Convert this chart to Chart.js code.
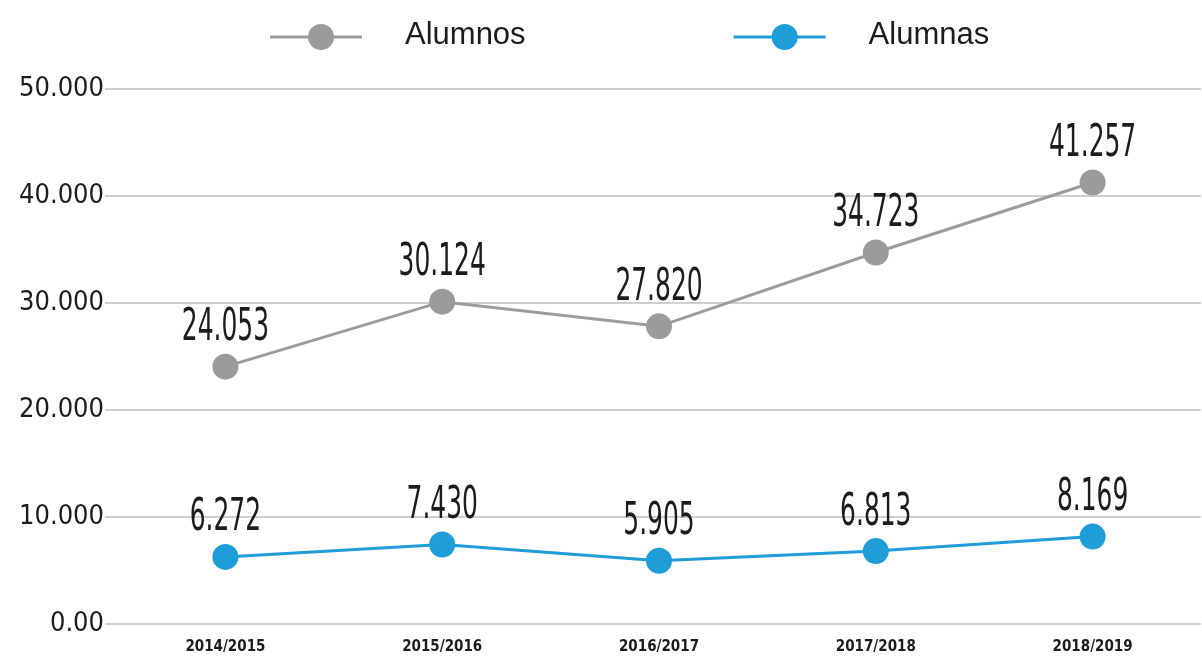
<!DOCTYPE html>
<html>
<head>
<meta charset="utf-8">
<script src="https://cdn.jsdelivr.net/npm/chart.js@4.4.0/dist/chart.umd.min.js"></script>
<style>
    html, body { margin: 0; padding: 0; background: #fff; overflow: hidden; }
    #wrap { width: 1214px; height: 661px; }
</style>
</head>
<body>
<div id="wrap"><canvas id="lineChart"></canvas></div>
<script>
// data
const cursos = ['2014/2015', '2015/2016', '2016/2017', '2017/2018', '2018/2019'];
const alumnos = [24053, 30124, 27820, 34723, 41257];
const alumnas = [6272, 7430, 5905, 6813, 8169];
const yLabels = ['0.00', '10.000', '20.000', '30.000', '40.000', '50.000'];

const narrow = "'Liberation Sans Narrow', 'DejaVu Sans Condensed', sans-serif";

function formatNum(v) {
    return String(v).replace(/\B(?=(\d{3})+(?!\d))/g, '.');
}

// numbers above each point (squeezed, the original uses a tall narrow hand font)
const valueLabels = {
    id: 'valueLabels',
    afterDatasetsDraw(chart) {
        const ctx = chart.ctx;
        ctx.save();
        ctx.fillStyle = '#1c1c1c';
        ctx.font = '44px ' + narrow;
        ctx.textAlign = 'center';
        ctx.textBaseline = 'middle';
        chart.data.datasets.forEach((ds, i) => {
            chart.getDatasetMeta(i).data.forEach((pt, j) => {
                ctx.save();
                ctx.translate(pt.x, pt.y - 38);
                ctx.scale(0.63, 1);
                ctx.fillText(formatNum(ds.data[j]), 0, 0);
                ctx.restore();
            });
        });
        ctx.restore();
    }
};

// legend with a line and a dot, like the original
const lineLegend = {
    id: 'lineLegend',
    afterDraw(chart) {
        const ctx = chart.ctx;
        let x = 270;
        const y = 37;
        ctx.save();
        ctx.font = '31px "Liberation Sans", Arial, sans-serif';
        ctx.textBaseline = 'middle';
        chart.data.datasets.forEach(ds => {
            ctx.strokeStyle = ds.borderColor;
            ctx.lineWidth = 3;
            ctx.beginPath();
            ctx.moveTo(x, y);
            ctx.lineTo(x + 92, y);
            ctx.stroke();
            ctx.fillStyle = ds.pointBackgroundColor;
            ctx.beginPath();
            ctx.arc(x + 51, y, 13, 0, Math.PI * 2);
            ctx.fill();
            ctx.fillStyle = '#1c1c1c';
            ctx.fillText(ds.label, x + 135, y - 2);
            x += 135 + ctx.measureText(ds.label).width + 208;
        });
        ctx.restore();
    }
};

new Chart(document.getElementById('lineChart'), {
    type: 'line',
    data: {
        labels: cursos,
        datasets: [{
            label: 'Alumnos',
            data: alumnos,
            borderColor: '#9c9c9c',
            borderWidth: 3,
            pointBackgroundColor: '#9b9b9b',
            pointBorderWidth: 0,
            pointRadius: 13,
            tension: 0
        }, {
            label: 'Alumnas',
            data: alumnas,
            borderColor: '#1e9dd8',
            borderWidth: 3,
            pointBackgroundColor: '#1e9dd8',
            pointBorderWidth: 0,
            pointRadius: 13,
            tension: 0
        }]
    },
    options: {
        responsive: true,
        maintainAspectRatio: false,
        animation: false,
        layout: {
            padding: { top: 89, left: 0, right: 1, bottom: 0 }
        },
        plugins: {
            legend: { display: false },
            tooltip: { enabled: false }
        },
        scales: {
            x: {
                offset: true,
                afterFit(scale) {
                    scale.height = 37;
                },
                grid: { display: false, drawTicks: false },
                border: { display: false },
                ticks: {
                    color: '#1c1c1c',
                    font: { family: narrow, size: 15, weight: 'bold' },
                    padding: 14,
                    maxRotation: 0
                }
            },
            y: {
                min: 0,
                max: 50000,
                afterFit(scale) {
                    scale.width = 117;
                },
                grid: {
                    color: '#cfcfcf',
                    lineWidth: 2,
                    tickLength: 12
                },
                border: { display: false },
                ticks: {
                    stepSize: 10000,
                    color: '#1c1c1c',
                    font: { family: narrow, size: 27 },
                    padding: 1,
                    callback: value => yLabels[value / 10000]
                }
            }
        }
    },
    plugins: [valueLabels, lineLegend]
});
</script>
</body>
</html>
